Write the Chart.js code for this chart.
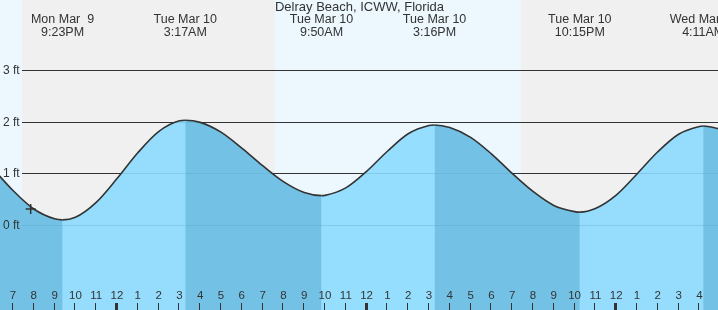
<!DOCTYPE html>
<html>
<head>
<meta charset="utf-8">
<title>Delray Beach, ICWW, Florida</title>
<script src="https://cdn.jsdelivr.net/npm/chart.js@4.4.1/dist/chart.umd.min.js"></script>
<style>
  html, body { margin: 0; padding: 0; background: #fff; }
  #wrap { width: 718px; height: 310px; }
</style>
</head>
<body>
<div id="wrap"><canvas id="tideChart" width="718" height="310"></canvas></div>
<script>
const stationName = 'Delray Beach, ICWW, Florida';

// tide height, hours counted from midnight Mar 10
const tideHours = [-6, -5, -4, -3, -2.617, -2, -1, 0, 1, 2, 3, 3.283, 4, 5, 6, 7, 8, 9, 9.833,
  10, 11, 12, 13, 14, 15, 15.267, 16, 17, 18, 19, 20, 21, 22, 22.25, 23, 24, 25, 26, 27, 28, 28.183, 29];
const tideFeet = [1.11, 0.67, 0.31, 0.12, 0.10, 0.15, 0.44, 0.90, 1.40, 1.81, 2.02, 2.03, 1.99, 1.80, 1.49, 1.15, 0.84, 0.63, 0.57,
  0.575, 0.72, 1.04, 1.43, 1.77, 1.93, 1.94, 1.89, 1.70, 1.38, 1.00, 0.65, 0.38, 0.26, 0.25, 0.32, 0.58, 0.99, 1.42, 1.76, 1.91, 1.92, 1.86];

// highs and lows shown along the top
const extremeHours = [-2.617, 3.283, 9.833, 15.267, 22.25, 28.183];
const extremeDays = ['Mon Mar  9', 'Tue Mar 10', 'Tue Mar 10', 'Tue Mar 10', 'Tue Mar 10', 'Wed Mar 11'];
const extremeTimes = ['9:23PM', '3:17AM', '9:50AM', '3:16PM', '10:15PM', '4:11AM'];

// night shading, sunset -> sunrise
const nightStart = [-4.57, 19.42];
const nightEnd = [7.6, 40];

// hour ticks along the bottom, 7PM Mar 9 to 4AM Mar 11
const hourTicks = [-5, -4, -3, -2, -1, 0, 1, 2, 3, 4, 5, 6, 7, 8, 9, 10, 11, 12,
  13, 14, 15, 16, 17, 18, 19, 20, 21, 22, 23, 24, 25, 26, 27, 28];
const hourLabels = ['7', '8', '9', '10', '11', '12', '1', '2', '3', '4', '5', '6', '7', '8', '9', '10', '11', '12',
  '1', '2', '3', '4', '5', '6', '7', '8', '9', '10', '11', '12', '1', '2', '3', '4'];

const feetTicks = [0, 1, 2, 3];
const feetLabels = ['0 ft', '1 ft', '2 ft', '3 ft'];

// current time marker
const nowHour = [-4.15];
const nowFeet = [0.31];

const textColor = '#333';
const dayColor = '#edf7fe';
const nightColor = '#f0f0f0';
const waterFill = 'rgba(140, 218, 254, 0.9)';
// darker overlay on the falling (ebb) stretches
const ebbFill = 'rgba(80, 166, 203, 0.5)';
const fontFamily = '"Liberation Sans", Arial, sans-serif';
const gridStartX = 22;

const tidePainter = {
  id: 'tidePainter',
  beforeDraw(chart) {
    const { ctx, chartArea: a, scales: { x } } = chart;
    ctx.save();
    ctx.fillStyle = dayColor;
    ctx.fillRect(a.left, a.top, a.right - a.left, a.bottom - a.top);
    ctx.fillStyle = nightColor;
    nightStart.forEach((s, i) => {
      const x0 = Math.max(a.left, Math.round(x.getPixelForValue(s)));
      const x1 = Math.min(a.right, Math.round(x.getPixelForValue(nightEnd[i])));
      ctx.fillRect(x0, a.top, x1 - x0, a.bottom - a.top);
    });
    ctx.restore();
  },
  beforeDatasetsDraw(chart) {
    // feet lines sit under the water
    const { ctx, chartArea: a, scales: { y } } = chart;
    ctx.save();
    ctx.strokeStyle = '#333';
    ctx.lineWidth = 1;
    feetTicks.forEach(f => {
      const py = Math.round(y.getPixelForValue(f)) + 0.5;
      ctx.beginPath();
      ctx.moveTo(gridStartX, py);
      ctx.lineTo(a.right, py);
      ctx.stroke();
    });
    ctx.restore();
  },
  afterDatasetsDraw(chart) {
    const { ctx, chartArea: a, scales: { x, y } } = chart;
    ctx.save();
    ctx.fillStyle = textColor;
    ctx.textBaseline = 'middle';

    // feet labels
    ctx.textAlign = 'left';
    ctx.font = '12px ' + fontFamily;
    feetTicks.forEach((f, i) => {
      ctx.fillText(feetLabels[i], 3, y.getPixelForValue(f) + 0.5);
    });

    // title + high/low times
    ctx.textAlign = 'center';
    ctx.font = '13px ' + fontFamily;
    ctx.fillText(stationName, (a.left + a.right) / 2 + 0.5, 7.5);
    ctx.font = '12.5px ' + fontFamily;
    extremeHours.forEach((h, i) => {
      const px = x.getPixelForValue(h);
      ctx.fillText(extremeDays[i], px, 20);
      ctx.fillText(extremeTimes[i], px, 32.5);
    });

    // hour ticks
    ctx.font = '11.5px ' + fontFamily;
    hourTicks.forEach((h, i) => {
      const px = x.getPixelForValue(h);
      ctx.fillText(hourLabels[i], px, 296);
      if (hourLabels[i] === '12') {
        ctx.fillRect(Math.round(px) - 2, 303, 3, 7);
      } else {
        ctx.fillRect(Math.round(px) - 1, 303, 1, 7);
      }
    });
    ctx.restore();
  }
};

const tidePoints = tideHours.map((h, i) => ({ x: h, y: tideFeet[i] }));
const nowPoints = nowHour.map((h, i) => ({ x: h, y: nowFeet[i] }));

new Chart(document.getElementById('tideChart'), {
  type: 'line',
  data: {
    datasets: [
      {
        label: 'Now',
        order: 1,
        data: nowPoints,
        showLine: false,
        pointStyle: 'cross',
        pointRadius: 5,
        borderColor: '#333',
        borderWidth: 1.5,
        fill: false
      },
      {
        label: 'Tide',
        order: 2,
        data: tidePoints,
        borderColor: '#333',
        borderWidth: 1.6,
        pointRadius: 0,
        cubicInterpolationMode: 'monotone',
        backgroundColor: 'rgba(0, 0, 0, 0)',
        fill: 'start',
        segment: {
          backgroundColor: c => (c.p1.parsed.y < c.p0.parsed.y ? ebbFill : 'rgba(0, 0, 0, 0)')
        }
      },
      {
        label: 'Water',
        order: 3,
        data: tidePoints,
        borderWidth: 0,
        borderColor: 'rgba(0, 0, 0, 0)',
        pointRadius: 0,
        cubicInterpolationMode: 'monotone',
        backgroundColor: waterFill,
        fill: 'start'
      }
    ]
  },
  options: {
    responsive: false,
    devicePixelRatio: 1,
    animation: false,
    events: [],
    layout: { padding: 0, autoPadding: false },
    plugins: {
      legend: { display: false },
      tooltip: { enabled: false },
      title: { display: false }
    },
    scales: {
      x: { type: 'linear', min: -5.625, max: 28.894, display: false },
      y: { type: 'linear', min: -1.648, max: 4.363, display: false }
    }
  },
  plugins: [tidePainter]
});
</script>
</body>
</html>
